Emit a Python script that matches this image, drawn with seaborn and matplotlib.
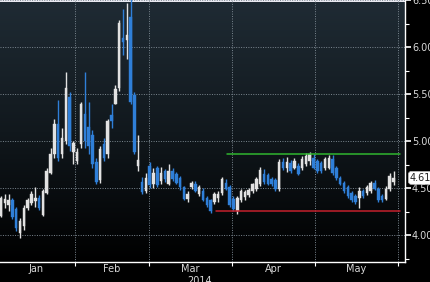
import numpy as np
import pandas as pd
import matplotlib
matplotlib.use("Agg")
import matplotlib.pyplot as plt
import matplotlib.transforms as mtransforms
from matplotlib.colors import LinearSegmentedColormap
import seaborn as sns

# ---------------- data ----------------
opens = [4.21, 4.34, 4.32, 4.37, 4.28, 4.02, 4.10, 4.29, 4.34, 4.36,
         4.40, 4.22, 4.45, 4.66, 4.86, 5.18, 4.86, 5.00, 5.47, 4.89,
         4.79, 4.97, 5.29, 5.15, 5.07, 4.78, 4.59, 4.97, 4.86, 5.28,
         5.40, 5.56, 6.10, 6.07, 6.32, 5.49, 4.74, 4.57, 4.47, 4.74,
         4.55, 4.72, 4.58, 4.68, 4.55, 4.68, 4.65, 4.61, 4.51, 4.39,
         4.51, 4.55, 4.44, 4.47, 4.40, 4.37, 4.35, 4.40, 4.45, 4.56,
         4.51, 4.39, 4.26, 4.37, 4.41, 4.43, 4.47, 4.49, 4.54, 4.65,
         4.64, 4.60, 4.59, 4.49, 4.78, 4.71, 4.77, 4.72, 4.74, 4.71,
         4.76, 4.79, 4.82, 4.79, 4.77, 4.71, 4.72, 4.81, 4.72, 4.61,
         4.56, 4.51, 4.45, 4.42, 4.40, 4.47, 4.45, 4.47, 4.56, 4.49,
         4.42, 4.39, 4.49, 4.57]
highs = [4.42, 4.44, 4.44, 4.40, 4.30, 4.18, 4.32, 4.40, 4.47, 4.51,
         4.43, 4.49, 4.71, 4.93, 5.24, 5.44, 5.14, 5.74, 5.52, 5.00,
         4.93, 5.42, 5.74, 5.42, 5.12, 4.82, 4.95, 5.03, 5.24, 5.39,
         5.60, 6.29, 6.40, 6.47, 6.60, 5.52, 5.07, 4.62, 4.66, 4.78,
         4.72, 4.74, 4.73, 4.70, 4.76, 4.71, 4.67, 4.63, 4.52, 4.47,
         4.58, 4.58, 4.53, 4.50, 4.42, 4.39, 4.46, 4.47, 4.62, 4.60,
         4.53, 4.42, 4.42, 4.49, 4.48, 4.50, 4.56, 4.62, 4.73, 4.70,
         4.66, 4.62, 4.61, 4.81, 4.82, 4.83, 4.80, 4.82, 4.77, 4.84,
         4.87, 4.89, 4.86, 4.81, 4.79, 4.83, 4.85, 4.85, 4.74, 4.63,
         4.58, 4.53, 4.47, 4.44, 4.51, 4.49, 4.53, 4.58, 4.59, 4.51,
         4.44, 4.52, 4.66, 4.68]
lows = [4.19, 4.29, 4.26, 4.17, 4.05, 3.97, 4.06, 4.27, 4.32, 4.30,
        4.27, 4.20, 4.44, 4.65, 4.82, 4.79, 4.82, 4.97, 4.90, 4.76,
        4.76, 4.93, 4.93, 4.86, 4.72, 4.55, 4.56, 4.79, 4.82, 5.14,
        5.39, 5.53, 5.92, 5.87, 5.40, 4.86, 4.68, 4.44, 4.45, 4.50,
        4.50, 4.51, 4.55, 4.57, 4.53, 4.58, 4.54, 4.48, 4.37, 4.35,
        4.49, 4.46, 4.42, 4.36, 4.30, 4.24, 4.33, 4.35, 4.43, 4.48,
        4.30, 4.26, 4.23, 4.35, 4.38, 4.41, 4.45, 4.47, 4.52, 4.55,
        4.53, 4.52, 4.47, 4.47, 4.69, 4.67, 4.66, 4.70, 4.64, 4.69,
        4.74, 4.75, 4.70, 4.66, 4.66, 4.69, 4.70, 4.64, 4.59, 4.53,
        4.45, 4.40, 4.35, 4.33, 4.29, 4.40, 4.43, 4.45, 4.48, 4.35,
        4.35, 4.37, 4.47, 4.53]
closes = [4.40, 4.39, 4.38, 4.19, 4.08, 4.15, 4.29, 4.37, 4.44, 4.40,
          4.29, 4.47, 4.68, 4.86, 5.18, 4.82, 5.03, 5.56, 4.95, 4.98,
          4.89, 5.39, 5.00, 4.95, 4.76, 4.57, 4.92, 4.82, 5.21, 5.21,
          5.55, 6.26, 6.05, 6.13, 5.42, 4.89, 4.80, 4.46, 4.61, 4.53,
          4.66, 4.53, 4.66, 4.60, 4.68, 4.60, 4.56, 4.51, 4.39, 4.44,
          4.56, 4.47, 4.51, 4.37, 4.32, 4.26, 4.44, 4.44, 4.60, 4.49,
          4.32, 4.28, 4.40, 4.47, 4.46, 4.48, 4.55, 4.60, 4.69, 4.57,
          4.55, 4.54, 4.49, 4.78, 4.71, 4.78, 4.68, 4.79, 4.65, 4.81,
          4.84, 4.86, 4.72, 4.68, 4.68, 4.81, 4.82, 4.66, 4.61, 4.55,
          4.47, 4.42, 4.37, 4.35, 4.47, 4.42, 4.51, 4.56, 4.49, 4.37,
          4.37, 4.49, 4.63, 4.61]

month_labels = ["Jan", "Feb", "Mar", "Apr", "May"]
month_edges = [-1.0, 19.4, 38.8, 60.6, 82.4, 104.2]   # bar-index of month boundaries
year_label = "2014"

resistance_level = 4.86
resistance_start = 59.3
support_level = 4.26
support_start = 56.4
levels_end = 104.7

y_ticks = [4.00, 4.50, 5.00, 5.50, 6.00, 6.50]

# ---------------- styling ----------------
sns.set_theme(style="dark")
plt.rcParams['font.family'] = ['DejaVu Sans']

UP = "#e2e2e2"
DOWN = "#2f7fd8"
TXT = "#d8d8d8"

df = pd.DataFrame({"open": opens, "high": highs, "low": lows, "close": closes})
df["idx"] = np.arange(len(df))
df["up"] = df["close"] >= df["open"]
df["color"] = np.where(df["up"], UP, DOWN)

fig = plt.figure(figsize=(4.30, 2.82), dpi=100)
fig.patch.set_facecolor("black")
ax = fig.add_axes([0.0, 20 / 282, 405 / 430, 262 / 282])

xmin, xmax = -0.26, 106.0
ymin, ymax = 3.716, 6.47

# gradient background
cmap = LinearSegmentedColormap.from_list("bg", ["#000000", "#11181d", "#1f2b34"])
grad = np.linspace(0, 1, 256).reshape(-1, 1)
ax.imshow(grad, extent=[xmin, xmax, ymin, ymax], origin="lower", aspect="auto",
          cmap=cmap, zorder=0)

# grid
for e in month_edges[1:]:
    ax.axvline(e, color="#7b8790", lw=0.7, ls=(0, (1, 1.5)), zorder=1)
for t in y_ticks:
    ax.axhline(t, color="#7b8790", lw=0.7, ls=(0, (1, 1.5)), zorder=1)

# candles: wicks then bodies
ax.vlines(df["idx"], df["low"], df["high"], colors=df["color"], lw=1.0, zorder=3)
body_bottom = np.minimum(df["open"], df["close"])
body_height = np.maximum(np.abs(df["close"] - df["open"]), 0.012)
ax.bar(df["idx"], body_height, bottom=body_bottom, width=0.66,
       color=df["color"], edgecolor=df["color"], linewidth=0.3, zorder=4)

# support / resistance lines via seaborn
lv = pd.DataFrame({
    "x": [resistance_start, levels_end, support_start, levels_end],
    "y": [resistance_level, resistance_level, support_level, support_level],
    "line": ["res", "res", "sup", "sup"],
})
sns.lineplot(data=lv, x="x", y="y", hue="line", palette={"res": "#2fb52f", "sup": "#c4202c"},
             lw=1.1, ax=ax, legend=False, zorder=5, estimator=None, sort=False)

ax.set_xlim(xmin, xmax)
ax.set_ylim(ymin, ymax)
ax.set_xlabel("")
ax.set_ylabel("")

# spines
for s in ["top", "left"]:
    ax.spines[s].set_visible(False)
for s in ["right", "bottom"]:
    ax.spines[s].set_visible(True)
    ax.spines[s].set_color("white")
    ax.spines[s].set_linewidth(1.0)

# y axis on right
ax.yaxis.tick_right()
ax.set_yticks(y_ticks)
ax.set_yticklabels([f"{t:.2f}" for t in y_ticks])
ax.set_yticks(np.arange(3.75, 6.5, 0.25), minor=True)
ax.tick_params(axis="y", which="major", direction="out", length=4, width=1.2,
               colors="white", labelcolor=TXT, labelsize=7, pad=1)
ax.tick_params(axis="y", which="minor", direction="out", length=3, width=0.8,
               colors="white", left=False, right=True)

# x axis: ticks at month edges, labels at month centres
ax.set_xticks(month_edges[1:])
ax.set_xticklabels([])
centers = [(month_edges[i] + month_edges[i + 1]) / 2 for i in range(len(month_labels))]
ax.set_xticks(centers, minor=True)
ax.set_xticklabels(month_labels, minor=True)
ax.tick_params(axis="x", which="major", direction="out", length=3, width=0.8,
               colors="white", bottom=True)
ax.tick_params(axis="x", which="minor", length=0, labelcolor=TXT, labelsize=7, pad=1.5,
               bottom=True)
ax.grid(False)

# year label under Mar (cut at the bottom edge, as in the reference)
trans = mtransforms.blended_transform_factory(ax.transData, fig.transFigure)
ax.text(centers[2] + 2.5, 1.5 / 282, year_label, transform=trans, ha="center", va="center",
        color=TXT, fontsize=7, clip_on=False)

# last price label
last = closes[-1]
ytr = mtransforms.blended_transform_factory(ax.transAxes, ax.transData)
ax.text(1.012, last, f"{last:.2f}", transform=ytr, ha="left", va="center",
        fontsize=7, color="#222222", clip_on=False, zorder=10,
        bbox=dict(boxstyle="round,pad=0.15,rounding_size=0.3", fc="white", ec="#bbbbbb", lw=0.5))

fig.savefig("out.png", dpi=100, facecolor="black")
